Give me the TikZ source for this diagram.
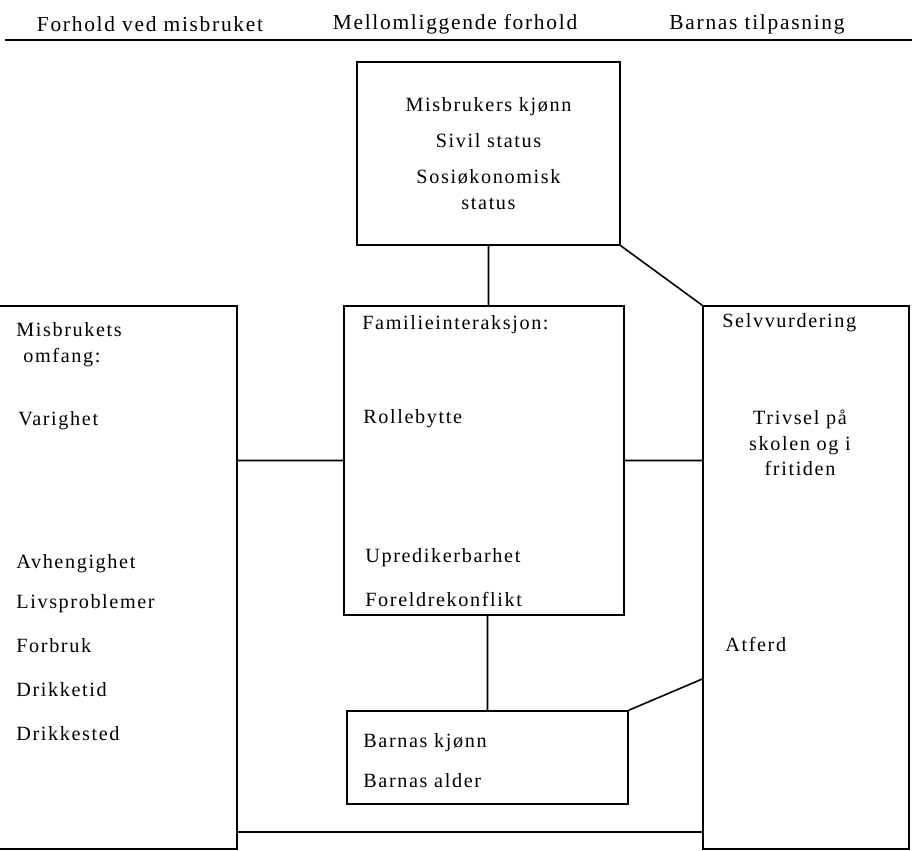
\documentclass[tikz,border=0pt]{standalone}
\usepackage{fontspec}
\setmainfont{Liberation Serif}[LetterSpace=8]
\usepackage{tikz}
\usetikzlibrary{positioning}

\tikzset{
  boks/.style={draw, line width=0.9pt, inner sep=0pt},
  punkt/.style={anchor=west, inner sep=0pt, text height=8pt, text depth=2.5pt},
  strek/.style={draw, line width=0.9pt},
  overskrift/.style={font=\fontsize{12.2}{14.5}\selectfont},
}

\begin{document}
\begin{tikzpicture}[x=0.02cm, y=-0.02cm, font=\fontsize{11.5}{14.5}\selectfont]
        \useasboundingbox (0,0) rectangle (912,851);
        % overskrifter
        \node[overskrift] (over1) at (150,24) {Forhold ved misbruket};
        \node[overskrift] (over2) at (455,24) {Mellomliggende forhold};
        \node[overskrift] (over3) at (757,24) {Barnas tilpasning};
        \draw[line width=1.3pt] (5,40) -- (912,40);
        % boksene
        \node[boks, minimum width=5.26cm, minimum height=3.66cm, align=center] (misbruker) at (488.5,153.5)
            {Misbrukers kjønn\\[6pt] Sivil status\\[6pt] Sosiøkonomisk\\ status};
        \node[boks, minimum width=5.14cm, minimum height=10.86cm] (omfang) at (108.5,577.5) {};
        \node[boks, minimum width=5.6cm, minimum height=6.18cm] (familie) at (484,460.5) {};
        \node[boks, minimum width=4.12cm, minimum height=10.86cm] (tilpasning) at (806,577.5) {};
        \node[boks, minimum width=5.62cm, minimum height=1.86cm] (barn) at (487.5,757.5) {};
        % forhold ved misbruket
        \node[punkt] (misb) at (16,332) {Misbrukets};
        \node[punkt] (omf) at (23,358) {omfang:};
        \node[punkt] (varighet) at (18,421) {Varighet};
        \node[punkt] (avh) at (16,564) {Avhengighet};
        \node[below=0.8cm of avh.west, punkt] (livs) {Livsproblemer};
        \node[below=0.88cm of livs.west, punkt] (forbruk) {Forbruk};
        \node[below=0.88cm of forbruk.west, punkt] (drikketid) {Drikketid};
        \node[below=0.88cm of drikketid.west, punkt] (drikkested) {Drikkested};
        % mellomliggende forhold
        \node[punkt] (famint) at (362,325) {Familieinteraksjon:};
        \node[punkt] (rolle) at (363,419) {Rollebytte};
        \node[punkt] (upred) at (365,558) {Upredikerbarhet};
        \node[below=0.88cm of upred.west, punkt] (konflikt) {Foreldrekonflikt};
        \node[punkt] (kjonn) at (363,743) {Barnas kjønn};
        \node[below=0.8cm of kjonn.west, punkt] (alder) {Barnas alder};
        % barnas tilpasning
        \node[punkt] (selv) at (722,323) {Selvvurdering};
        \node[align=center, inner sep=0pt] (trivsel) at (800,443) {Trivsel på\\ skolen og i\\ fritiden};
        \node[punkt] (atferd) at (725,647) {Atferd};
        % forbindelser
        \coordinate (atferdpkt) at (tilpasning.west |- 0,679);
        \coordinate (bunn) at (omfang.east |- 0,832);
        \path[strek]
        (misbruker.south) -- (misbruker.south |- familie.north)
        (misbruker.south east) -- (tilpasning.north west)
        (familie.west) -- (familie.west -| omfang.east)
        (familie.east) -- (familie.east -| tilpasning.west)
        (barn.north) -- (barn.north |- familie.south)
        (barn.north east) -- (atferdpkt)
        (bunn) -- (bunn -| tilpasning.west);
        \end{tikzpicture}
\end{document}
